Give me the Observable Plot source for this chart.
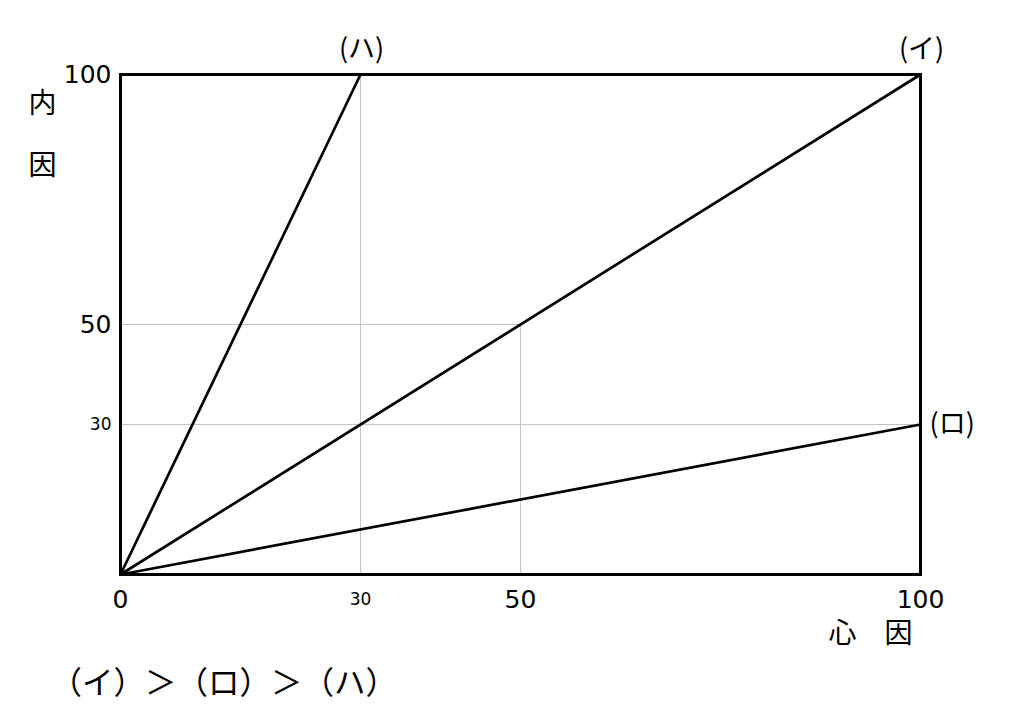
<!DOCTYPE html>
<html>
<head>
<meta charset="utf-8">
<script src="https://cdn.jsdelivr.net/npm/d3@7"></script>
<script src="https://cdn.jsdelivr.net/npm/@observablehq/plot@0.6"></script>
<style>
  html, body { margin: 0; padding: 0; background: #fff; }
</style>
</head>
<body>
<div id="chart"></div>
<script>
// ---- data ----
const seriesLabels = ["(イ)", "(ロ)", "(ハ)"];
const endX = [100, 100, 30];
const endY = [100, 30, 100];
const xTicks = [0, 30, 50, 100];
const yTicks = [30, 50, 100];
const gridAt = [30, 50];
const gridExtent = [100, 50];
const xTitle = "心　因";
const yTitle = ["内", "因"];
const ranking = "（イ）＞（ロ）＞（ハ）";

// ---- derived tables ----
const series = seriesLabels.map((label, i) => ({label, x: endX[i], y: endY[i]}));
const grid = gridAt.map((v, i) => ({at: v, extent: gridExtent[i]}));

const numFont = "DejaVu Sans, Verdana, sans-serif";
const cjkFont = "Noto Sans CJK JP, sans-serif";
const tickFs = d => d === 30 ? 17 : 25;

const chart = Plot.plot({
  width: 1023,
  height: 714,
  marginLeft: 120,
  marginRight: 103,
  marginTop: 74,
  marginBottom: 140,
  x: {domain: [0, 100], axis: null},
  y: {domain: [0, 100], axis: null},
  style: {background: "#fff"},
  marks: [
    // partial grid lines
    Plot.ruleX(grid, {x: "at", y1: () => 0, y2: "extent", stroke: "#c4c4c4", strokeWidth: 1}),
    Plot.ruleY(grid, {y: "at", x1: () => 0, x2: "extent", stroke: "#c4c4c4", strokeWidth: 1}),
    // series lines from origin
    Plot.link(series, {x1: () => 0, y1: () => 0, x2: "x", y2: "y", stroke: "#000", strokeWidth: 2.7}),
    // frame
    Plot.frame({stroke: "#000", strokeWidth: 3}),
    // x tick labels
    Plot.text(xTicks, {x: d => d, y: () => 0, text: d => String(d), dy: 25, fontSize: tickFs,
      fontFamily: numFont, fill: "#000", textAnchor: "middle", lineAnchor: "middle"}),
    // y tick labels
    Plot.text(yTicks, {x: () => 0, y: d => d, text: d => String(d), dx: -9, fontSize: tickFs,
      fontFamily: numFont, fill: "#000", textAnchor: "end", lineAnchor: "middle"}),
    // series labels above the top
    Plot.text(series.filter(d => d.y === 100), {x: "x", y: "y", text: "label", dy: -25, dx: 1,
      fontSize: 27, fontFamily: cjkFont, fill: "#000", textAnchor: "middle", lineAnchor: "middle"}),
    // series label on the right
    Plot.text(series.filter(d => d.y !== 100), {x: "x", y: "y", text: "label", dx: 9,
      fontSize: 27, fontFamily: cjkFont, fill: "#000", textAnchor: "start", lineAnchor: "middle"}),
    // y title (vertical)
    Plot.text([yTitle.join("\n")], {frameAnchor: "top-left", dx: -78, dy: 50, text: d => d,
      fontSize: 28, lineHeight: 2.2, fontFamily: cjkFont, fill: "#000", textAnchor: "middle", lineAnchor: "middle"}),
    // x title
    Plot.text([xTitle], {frameAnchor: "bottom-right", dx: -50, dy: 60, text: d => d,
      fontSize: 28, fontFamily: cjkFont, fill: "#000", textAnchor: "middle", lineAnchor: "middle"}),
    // ranking line
    Plot.text([ranking], {frameAnchor: "bottom-left", dx: -70, dy: 109, text: d => d,
      fontSize: 31.5, fontFamily: cjkFont, fill: "#000", textAnchor: "start", lineAnchor: "middle"})
  ]
});
document.getElementById("chart").appendChild(chart);
</script>
</body>
</html>
